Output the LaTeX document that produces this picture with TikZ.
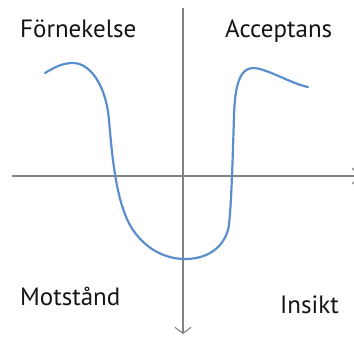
\documentclass[tikz,border=0pt]{standalone}
\usepackage{fontspec}
\setmainfont{PT Sans}
\usetikzlibrary{arrows.meta}
\definecolor{curveblue}{RGB}{91,143,204}
\definecolor{axisgray}{RGB}{130,130,130}
\begin{document}
\begin{tikzpicture}[x=1pt,y=-1pt,
  axis/.style={draw=axisgray,line width=1.3pt,-{Straight Barb[length=6pt,width=16pt,line width=1.1pt]}},
  curve/.style={draw=curveblue,line width=2.2pt,line cap=round},
  lbl/.style={font=\fontsize{25}{28}\selectfont,text=black!92,inner sep=0pt,anchor=base west}]
\useasboundingbox (0,0) rectangle (354,338);
\coordinate (xs) at (12,176);
\coordinate (xe) at (359,176);
\coordinate (ys) at (183,8);
\coordinate (ye) at (183,334);
\draw[axis] (xs) -- (xe);
\draw[axis] (ys) -- (ye);
\draw[curve] (45,73) .. controls (55,67) and (63,63) .. (73,63)
  .. controls (90,63) and (106,85) .. (109,120)
  .. controls (112,155) and (116,205) .. (133,230)
  .. controls (146,249) and (165,259) .. (185,259)
  .. controls (205,259) and (222,250) .. (228,230)
  .. controls (231,220) and (233,150) .. (234,115)
  .. controls (235,85) and (240,68) .. (253,68)
  .. controls (266,68) and (292,84) .. (308,87);
\node[lbl] (f) at (20,37) {Förnekelse};
\node[lbl] (a) at (225,37) {Acceptans};
\node[lbl] (m) at (20,305) {Motstånd};
\node[lbl] (i) at (280,313) {Insikt};
\end{tikzpicture}
\end{document}
